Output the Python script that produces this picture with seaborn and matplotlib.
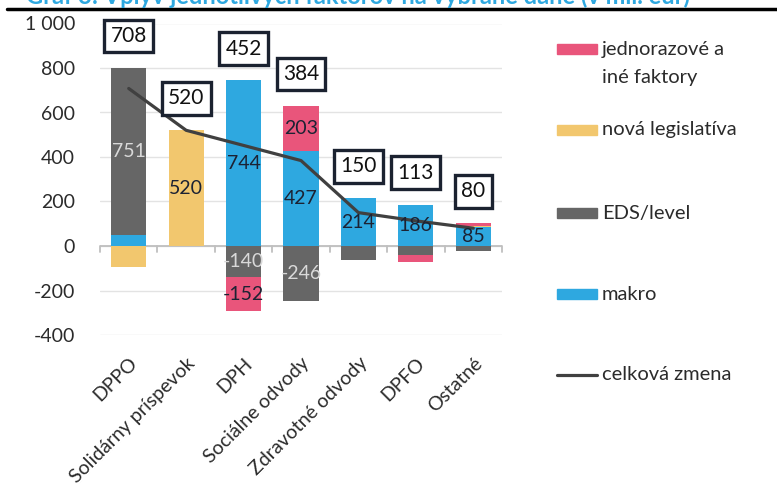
import numpy as np
import matplotlib
matplotlib.use("Agg")
import matplotlib.pyplot as plt
import seaborn as sns
from matplotlib.patches import Rectangle
from matplotlib.lines import Line2D

sns.set_theme(style="white")
plt.rcParams['font.family'] = ['Lato', 'DejaVu Sans']

kategorie = ["DPPO", "Solidárny príspevok", "DPH", "Sociálne odvody",
             "Zdravotné odvody", "DPFO", "Ostatné"]
makro = [50, 0, 744, 427, 214, 186, 85]
eds_level = [751, 0, -140, -246, -64, -42, -22]
legislativa = [-93, 520, 0, 0, 0, 0, 4]
jednorazove = [0, 0, -152, 203, 0, -31, 13]
celkova_zmena = [708, 520, 452, 384, 150, 113, 80]

farby = {
    "makro": "#2EA8E0",
    "EDS/level": "#666666",
    "nová legislatíva": "#F2C76E",
    "jednorazové a iné faktory": "#E9557B",
}
serie = [("makro", makro), ("EDS/level", eds_level),
         ("nová legislatíva", legislativa), ("jednorazové a iné faktory", jednorazove)]

fig = plt.figure(figsize=(7.77, 4.91), dpi=100)
ax = fig.add_axes([100 / 777, 1 - 335 / 491, 402 / 777, 311.5 / 491])

x = np.arange(len(kategorie))
pos_base = np.zeros(len(kategorie))
neg_base = np.zeros(len(kategorie))
sirka = 0.61

for nazov, hodnoty in serie:
    hodnoty = np.array(hodnoty, dtype=float)
    spodok = np.where(hodnoty >= 0, pos_base, neg_base)
    ax.bar(x, hodnoty, bottom=spodok, width=sirka, color=farby[nazov],
           edgecolor="none", zorder=2)
    for i, v in enumerate(hodnoty):
        if v >= 80 or v <= -100:
            farba_textu = "#d9d9d9" if nazov == "EDS/level" else "#1c2233"
            ax.text(x[i], spodok[i] + v / 2, f"{int(v)}", ha="center", va="center",
                    fontsize=14, color=farba_textu, zorder=4)
    pos_base = pos_base + np.where(hodnoty > 0, hodnoty, 0)
    neg_base = neg_base + np.where(hodnoty < 0, hodnoty, 0)

# celková zmena
sns.lineplot(x=x, y=celkova_zmena, ax=ax, color="#404040", linewidth=2.3, zorder=3)

# rámčeky s celkovou zmenou nad stĺpcami
for i, v in enumerate(celkova_zmena):
    ax.annotate(f"{v}", xy=(x[i], pos_base[i]), xytext=(0, 23), textcoords="offset points",
                ha="center", va="center", fontsize=15, color="#111111",
                zorder=5, bbox=dict(boxstyle="square,pad=0.3", fc="white", ec="#1b2230", lw=2.4))

ax.set_ylim(-400, 1000)
ax.set_xlim(-0.5, len(kategorie) - 0.5)
ax.set_yticks(np.arange(-400, 1001, 200))
ax.set_yticklabels([f"{t:,}".replace(",", " ") for t in range(-400, 1001, 200)])
ax.yaxis.grid(True, color="#e3e3e3", linewidth=1, zorder=0)
for s in ax.spines.values():
    s.set_visible(False)
ax.tick_params(axis="y", length=0, pad=18, labelsize=14, labelcolor="#2b2b2b")

ax.set_xticks(x)
ax.set_xticklabels(kategorie, rotation=45, ha="right", rotation_mode="anchor",
                   fontsize=14, color="#2b2b2b")
ax.tick_params(axis="x", length=0, pad=14)

# nulová os s deliacimi značkami
ax.axhline(0, color="#bfbfbf", linewidth=1.3, zorder=1)
for b in np.arange(-0.5, len(kategorie), 1.0):
    ax.plot([b, b], [0, -27], color="#bfbfbf", linewidth=1.3, zorder=1, clip_on=False)

# legenda
polozky = [("jednorazové a", farby["jednorazové a iné faktory"], 49),
           ("nová legislatíva", farby["nová legislatíva"], 130),
           ("EDS/level", farby["EDS/level"], 213),
           ("makro", farby["makro"], 294)]
for text, farba, ypix in polozky:
    fig.patches.append(Rectangle((557 / 777, 1 - (ypix + 5) / 491), 40 / 777, 10 / 491,
                                 transform=fig.transFigure, color=farba))
    fig.text(602 / 777, 1 - ypix / 491, text, fontsize=14.5, color="#2b2b2b",
             ha="left", va="center")
fig.text(602 / 777, 1 - 78 / 491, "iné faktory", fontsize=14.5, color="#2b2b2b",
         ha="left", va="center")
fig.lines.append(Line2D([557 / 777, 597 / 777], [1 - 375 / 491, 1 - 375 / 491],
                        transform=fig.transFigure, color="#404040", linewidth=2.3))
fig.text(602 / 777, 1 - 375 / 491, "celková zmena", fontsize=14.5, color="#2b2b2b",
         ha="left", va="center")

# orezaný nadpis a čiara
fig.text(26 / 777, 1 - 4 / 491, "Graf 3: Vplyv jednotlivých faktorov na vybrané dane (v mil. eur)",
         fontsize=17, fontweight="bold", color="#2EA8E0", ha="left", va="baseline")
fig.lines.append(Line2D([7 / 777, 1], [1 - 9 / 491, 1 - 9 / 491],
                        transform=fig.transFigure, color="black", linewidth=2.5))

fig.savefig("out.png", dpi=100)
